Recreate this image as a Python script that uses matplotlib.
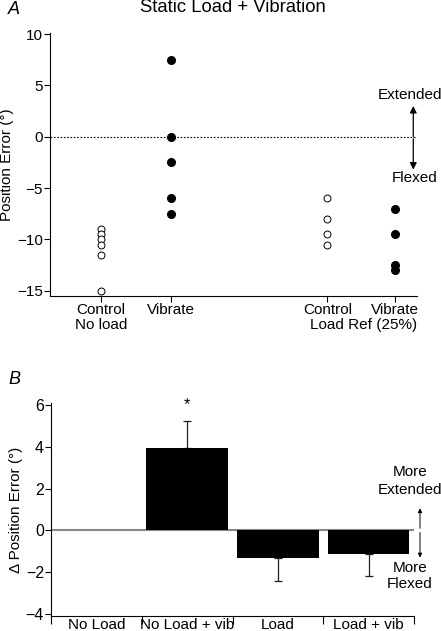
import matplotlib.pyplot as plt
import numpy as np

plt.rcParams['font.family'] = ['Liberation Sans', 'DejaVu Sans']

# panel A data
ctrl_noload = [-9, -9.5, -10, -10.5, -11.5, -15]
vib_noload = [7.5, 0, -2.5, -6, -7.5]
ctrl_load = [-6, -8, -9.5, -10.5]
vib_load = [-7, -9.5, -12.5, -13]
a_ticklabels = ['Control', 'Vibrate', 'Control', 'Vibrate']
a_groups = ['No load', 'Load Ref (25%)']

# panel B data
b_labels = ['No Load', 'No Load + vib', 'Load', 'Load + vib']
b_means = [0.03, 3.95, -1.3, -1.15]
b_err = [0, 1.3, 1.1, 1.05]

fig = plt.figure(figsize=(4.41, 6.31), dpi=100)

# ---------- A ----------
axA = fig.add_axes([50/441, 1 - 296/631, 367/441, 263/631])
xpos = [1, 2, 4.23, 5.19]
axA.axhline(0, color='k', ls=(0, (1.5, 1.5)), lw=0.8)
for x, vals in zip([xpos[0], xpos[2]], [ctrl_noload, ctrl_load]):
    axA.plot([x]*len(vals), vals, 'o', mfc='white', mec='k', ms=5, mew=0.7)
for x, vals in zip([xpos[1], xpos[3]], [vib_noload, vib_load]):
    axA.plot([x]*len(vals), vals, 'o', mfc='k', mec='k', ms=5.5)

axA.set_xlim(0.27, 5.51)
axA.set_ylim(-15.5, 10.1)
axA.set_yticks([-15, -10, -5, 0, 5, 10])
axA.set_yticklabels(['\u221215', '\u221210', '\u22125', '0', '5', '10'])
axA.set_xticks(xpos)
axA.set_xticklabels(a_ticklabels)
axA.spines['top'].set_visible(False)
axA.spines['right'].set_visible(False)
axA.tick_params(labelsize=11, length=4, width=0.8, pad=1)
axA.set_ylabel('Position Error (°)', fontsize=11, labelpad=2)
axA.text(1.0, -18.35, a_groups[0], ha='center', va='center', fontsize=11, clip_on=False)
axA.text(4.74, -18.35, a_groups[1], ha='center', va='center', fontsize=11, clip_on=False)
axA.text(5.41, 4.1, 'Extended', ha='center', va='center', fontsize=11, clip_on=False)
axA.text(5.47, -4.0, 'Flexed', ha='center', va='center', fontsize=11, clip_on=False)
axA.annotate('', xy=(5.457, 3.0), xytext=(5.457, 0.0), annotation_clip=False,
             arrowprops=dict(arrowstyle='-|>', color='k', lw=0.9, mutation_scale=10,
                             shrinkA=0, shrinkB=0))
axA.annotate('', xy=(5.457, -3.2), xytext=(5.457, -0.2), annotation_clip=False,
             arrowprops=dict(arrowstyle='-|>', color='k', lw=0.9, mutation_scale=10,
                             shrinkA=0, shrinkB=0))
fig.text(8/441, 1 - 9/631, 'A', fontsize=13, style='italic', va='center', ha='left')
fig.text(233/441, 1 - 8/631, 'Static Load + Vibration', fontsize=13.3, ha='center', va='center')

# ---------- B ----------
axB = fig.add_axes([51/441, 1 - 616/631, 363/441, 213/631])
bx = np.arange(len(b_labels)) + 0.5
axB.axhline(0, color='#888888', lw=1.5, zorder=1)
axB.bar(bx, b_means, width=0.9, color='k', zorder=2)
for x, m, e in zip(bx, b_means, b_err):
    if e > 0:
        sign = 1 if m > 0 else -1
        axB.errorbar([x], [m], yerr=[[0], [e]] if sign > 0 else [[e], [0]],
                     fmt='none', ecolor='#222222', elinewidth=0.9, capsize=3, capthick=0.9, zorder=1)
axB.text(bx[1], 6.0, '*', ha='center', va='center', fontsize=12)
axB.set_xlim(0, 4)
axB.set_ylim(-4.1, 6.1)
axB.set_yticks([-4, -2, 0, 2, 4, 6])
axB.set_yticklabels(['\u22124', '\u22122', '0', '2', '4', '6'])
axB.set_xticks(bx)
axB.set_xticklabels(b_labels)
axB.set_xticks([0, 1, 2, 3, 4], minor=True)
axB.tick_params(axis='x', which='major', length=0, labelsize=11, pad=1.5)
axB.tick_params(axis='x', which='minor', length=6, width=0.8)
axB.tick_params(axis='y', labelsize=11.5, length=4, width=0.8, pad=1)
axB.spines['top'].set_visible(False)
axB.spines['right'].set_visible(False)
axB.set_ylabel('\u0394 Position Error (°)', fontsize=11, labelpad=2)
axB.text(3.956, 2.8, 'More', ha='center', va='center', fontsize=11, clip_on=False)
axB.text(3.956, 1.95, 'Extended', ha='center', va='center', fontsize=11, clip_on=False)
axB.text(3.956, -1.78, 'More', ha='center', va='center', fontsize=11, clip_on=False)
axB.text(3.956, -2.55, 'Flexed', ha='center', va='center', fontsize=11, clip_on=False)
axB.annotate('', xy=(4.066, 1.06), xytext=(4.066, 0.1), annotation_clip=False,
             arrowprops=dict(arrowstyle='-|>', color='k', lw=0.7, mutation_scale=6,
                             shrinkA=0, shrinkB=0))
axB.annotate('', xy=(4.066, -1.3), xytext=(4.066, -0.1), annotation_clip=False,
             arrowprops=dict(arrowstyle='-|>', color='k', lw=0.7, mutation_scale=6,
                             shrinkA=0, shrinkB=0))
fig.text(8/441, 1 - 380/631, 'B', fontsize=13, style='italic', va='center', ha='left')

fig.savefig('out.png', dpi=100)
